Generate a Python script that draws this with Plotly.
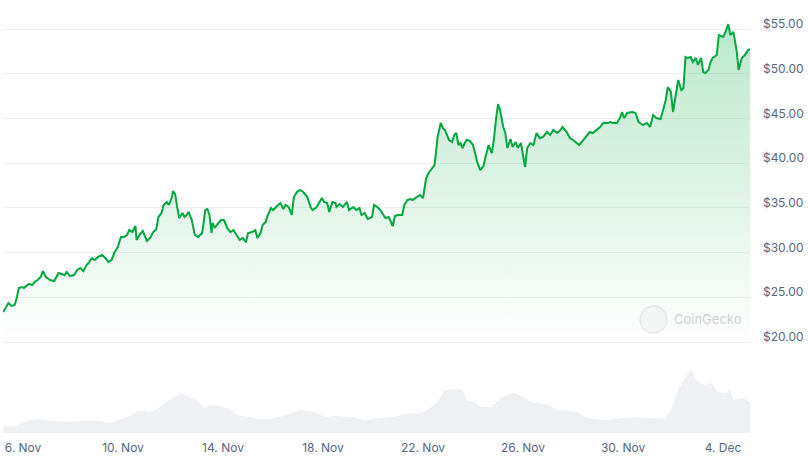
import pandas as pd
import plotly.graph_objects as go

# ---- data ----
BASE = pd.Timestamp("2024-11-05 00:00")

price_hours = [
    5, 7, 10, 13, 16, 18, 20, 23, 25, 28,
    30, 33, 35, 38, 41, 43, 46, 50, 54, 58,
    61, 64, 66, 69, 73, 76, 79, 82, 85, 87,
    90, 93, 96, 100, 103, 106, 109, 112, 115, 118,
    121, 124, 126, 129, 132, 133, 136, 139, 143, 146,
    149, 152, 154, 157, 159, 162, 164, 167, 168, 170,
    172, 174, 177, 179, 181, 183, 186, 189, 192, 196,
    199, 201, 203, 205, 206, 208, 210, 214, 217, 220,
    223, 226, 229, 232, 235, 238, 240, 244, 247, 249,
    252, 254, 257, 259, 262, 264, 268, 271, 274, 276,
    279, 282, 284, 287, 290, 293, 297, 300, 302, 306,
    308, 311, 313, 316, 318, 321, 324, 325, 328, 331,
    335, 337, 341, 344, 347, 349, 352, 355, 359, 361,
    364, 367, 370, 372, 375, 379, 381, 384, 388, 390,
    393, 396, 398, 402, 405, 408, 411, 414, 417, 419,
    420, 422, 425, 427, 429, 431, 433, 436, 438, 440,
    442, 444, 446, 448, 450, 453, 456, 458, 460, 463,
    466, 468, 469, 471, 474, 476, 478, 480, 482, 485,
    487, 489, 492, 494, 497, 499, 502, 504, 506, 508,
    511, 514, 517, 520, 523, 527, 530, 533, 537, 540,
    542, 546, 549, 552, 556, 558, 562, 564, 568, 571,
    575, 578, 581, 585, 588, 590, 594, 597, 599, 601,
    604, 609, 612, 615, 619, 623, 626, 629, 632, 636,
    638, 641, 643, 646, 648, 651, 653, 656, 658, 660,
    662, 665, 667, 670, 672, 675, 677, 679, 682, 684,
    686, 690, 692, 696, 698, 701, 703, 706, 708, 709,
    711, 714, 717, 720, 722,
]

price_usd = [
    23.35, 23.80, 24.36, 24.03, 24.14, 24.92, 26.04, 26.15, 26.04, 26.37,
    26.49, 26.37, 26.71, 26.93, 27.27, 27.94, 27.27, 26.93, 26.82, 27.72,
    27.60, 27.49, 27.83, 27.38, 27.49, 28.05, 28.28, 27.94, 28.61, 28.83,
    29.39, 29.17, 29.51, 29.73, 29.39, 28.95, 29.17, 30.06, 30.62, 31.74,
    31.74, 31.97, 32.52, 32.30, 32.97, 31.41, 31.97, 32.41, 31.29, 31.63,
    32.30, 32.64, 33.98, 34.43, 35.32, 35.66, 35.32, 36.21, 36.89, 36.55,
    35.10, 33.87, 34.43, 33.98, 34.20, 34.54, 33.64, 31.97, 31.74, 32.19,
    34.76, 34.87, 34.20, 32.19, 33.31, 32.75, 33.08, 33.64, 33.64, 32.75,
    32.30, 32.52, 31.97, 31.41, 31.63, 31.18, 32.19, 32.30, 32.52, 31.63,
    32.19, 33.08, 33.42, 34.20, 34.98, 34.76, 35.21, 35.54, 34.87, 35.32,
    35.10, 34.20, 36.21, 36.77, 37.00, 36.77, 36.21, 35.10, 34.76, 35.10,
    35.54, 36.10, 35.66, 35.54, 34.54, 35.66, 35.54, 35.10, 35.43, 35.10,
    35.66, 34.76, 35.10, 34.76, 34.98, 34.20, 34.43, 33.75, 33.98, 35.32,
    35.10, 34.76, 34.20, 33.87, 33.98, 32.97, 34.09, 34.20, 34.20, 35.32,
    35.88, 35.99, 35.88, 36.21, 36.44, 36.10, 38.34, 39.01, 39.57, 39.79,
    40.69, 42.92, 44.49, 43.93, 43.71, 43.15, 42.59, 42.36, 43.15, 43.37,
    42.03, 42.25, 41.69, 42.25, 42.59, 42.48, 42.03, 41.13, 40.13, 39.23,
    39.68, 40.69, 41.25, 42.03, 41.13, 42.59, 44.82, 46.61, 45.94, 44.04,
    43.37, 41.69, 42.70, 41.81, 42.36, 41.69, 42.25, 40.69, 39.57, 41.69,
    42.25, 42.03, 43.37, 42.81, 42.92, 43.48, 43.15, 43.71, 43.37, 43.71,
    44.04, 43.48, 42.81, 42.59, 42.25, 42.03, 42.59, 42.92, 43.48, 43.37,
    43.71, 44.04, 44.49, 44.49, 44.60, 44.49, 44.49, 45.05, 45.72, 45.05,
    45.61, 45.72, 45.61, 44.60, 44.27, 44.49, 44.04, 45.38, 45.05, 44.94,
    45.72, 47.06, 48.51, 47.96, 45.72, 47.62, 49.30, 48.18, 48.40, 51.87,
    51.76, 51.87, 51.31, 51.76, 50.98, 51.76, 50.19, 50.08, 50.42, 51.31,
    51.76, 52.09, 54.33, 54.11, 54.55, 55.55, 54.33, 54.67, 53.55, 52.65,
    50.42, 51.76, 52.09, 52.65, 52.76,
]

volume_hours = [
    5, 16, 24, 32, 41, 51, 66, 82, 96, 108,
    121, 129, 136, 146, 154, 160, 168, 176, 183, 191,
    198, 205, 215, 223, 230, 240, 251, 260, 270, 280,
    290, 300, 307, 315, 324, 340, 352, 365, 379, 392,
    407, 415, 422, 428, 435, 442, 446, 450, 459, 464,
    474, 482, 489, 496, 504, 512, 519, 529, 537, 546,
    556, 564, 573, 586, 598, 609, 621, 634, 640, 646,
    653, 660, 666, 670, 678, 686, 690, 698, 703, 706,
    715, 722,
]

volume_musd = [
    14, 12, 22, 26, 28, 24, 22, 24, 24, 20,
    30, 36, 46, 42, 50, 60, 70, 80, 72, 66,
    50, 56, 52, 48, 36, 32, 28, 28, 32, 38,
    46, 44, 38, 32, 34, 32, 26, 30, 32, 38,
    40, 50, 62, 84, 88, 86, 86, 66, 60, 52,
    52, 68, 76, 80, 72, 62, 60, 56, 46, 44,
    42, 32, 28, 26, 30, 32, 30, 28, 28, 46,
    86, 112, 126, 106, 96, 100, 82, 80, 86, 66,
    70, 62,
]

y_ticks = [20, 25, 30, 35, 40, 45, 50, 55]
y_tick_text = ["$20.00", "$25.00", "$30.00", "$35.00",
               "$40.00", "$45.00", "$50.00", "$55.00"]
x_tick_dates = ["2024-11-06", "2024-11-10", "2024-11-14", "2024-11-18",
                "2024-11-22", "2024-11-26", "2024-11-30", "2024-12-04"]

# ---- derived ----
price_t = [BASE + pd.Timedelta(hours=h) for h in price_hours]
vol_t = [BASE + pd.Timedelta(hours=h) for h in volume_hours]
x_start = BASE + pd.Timedelta(hours=4.8)
x_end = BASE + pd.Timedelta(hours=721.92)

GREEN = "#00a83e"
TXT = "#58667e"
GRID = "#eceff2"

fig = go.Figure()

# volume (separate hidden axis)
fig.add_trace(go.Scatter(
    x=vol_t, y=volume_musd, yaxis="y2", mode="lines",
    line=dict(width=0, color="#eef0f3"), fill="tozeroy",
    fillcolor="#eef0f3", hoverinfo="skip", showlegend=False,
))

# baseline for the price fill
fig.add_trace(go.Scatter(
    x=[price_t[0], price_t[-1]], y=[20, 20], mode="lines",
    line=dict(width=0, color="rgba(0,0,0,0)"), hoverinfo="skip",
    showlegend=False,
))

fig.add_trace(go.Scatter(
    x=price_t, y=price_usd, mode="lines",
    line=dict(color=GREEN, width=2),
    fill="tonexty",
    fillgradient=dict(
        type="vertical", start=20, stop=56,
        colorscale=[[0, "rgba(0,168,62,0.0)"], [1, "rgba(0,168,62,0.27)"]],
    ),
    showlegend=False,
))

# CoinGecko watermark
fig.add_shape(type="circle", xref="paper", yref="paper",
              x0=(640 - 3) / 747, x1=(667 - 3) / 747,
              y0=(433 - 333) / 433, y1=(433 - 306) / 433,
              line=dict(color="rgba(215,215,215,0.5)", width=1.5),
              fillcolor="rgba(230,230,230,0.35)", layer="above")
fig.add_annotation(text="CoinGecko", xref="paper", yref="paper",
                   x=(672 - 3) / 747, y=(433 - 319) / 433,
                   xanchor="left", yanchor="middle", showarrow=False,
                   font=dict(family="Inter", size=13, color="rgba(190,190,190,0.75)"))

fig.update_layout(
    width=808, height=460, autosize=False,
    margin=dict(l=3, r=58, t=0, b=27),
    paper_bgcolor="white", plot_bgcolor="white",
    font=dict(family="Inter", size=12, color=TXT),
    hovermode="x",
    xaxis=dict(
        type="date", range=[x_start, x_end],
        tickvals=x_tick_dates, tickformat="%-d. %b",
        showgrid=False, zeroline=False, showline=False,
        ticks="", ticklabelstandoff=6,
        tickfont=dict(family="Inter", size=12, color=TXT),
    ),
    yaxis=dict(
        side="right", range=[9.824, 58.243],
        tickvals=y_ticks, ticktext=y_tick_text,
        showgrid=True, gridcolor=GRID, gridwidth=1,
        zeroline=False, showline=False, ticks="",
        ticklabelstandoff=12, ticklabelshift=-5,
        tickfont=dict(family="Inter", size=12, color=TXT),
    ),
    yaxis2=dict(
        overlaying="y", range=[0, 866], visible=False,
        showgrid=False, zeroline=False,
    ),
)

fig.write_html("out.html")
